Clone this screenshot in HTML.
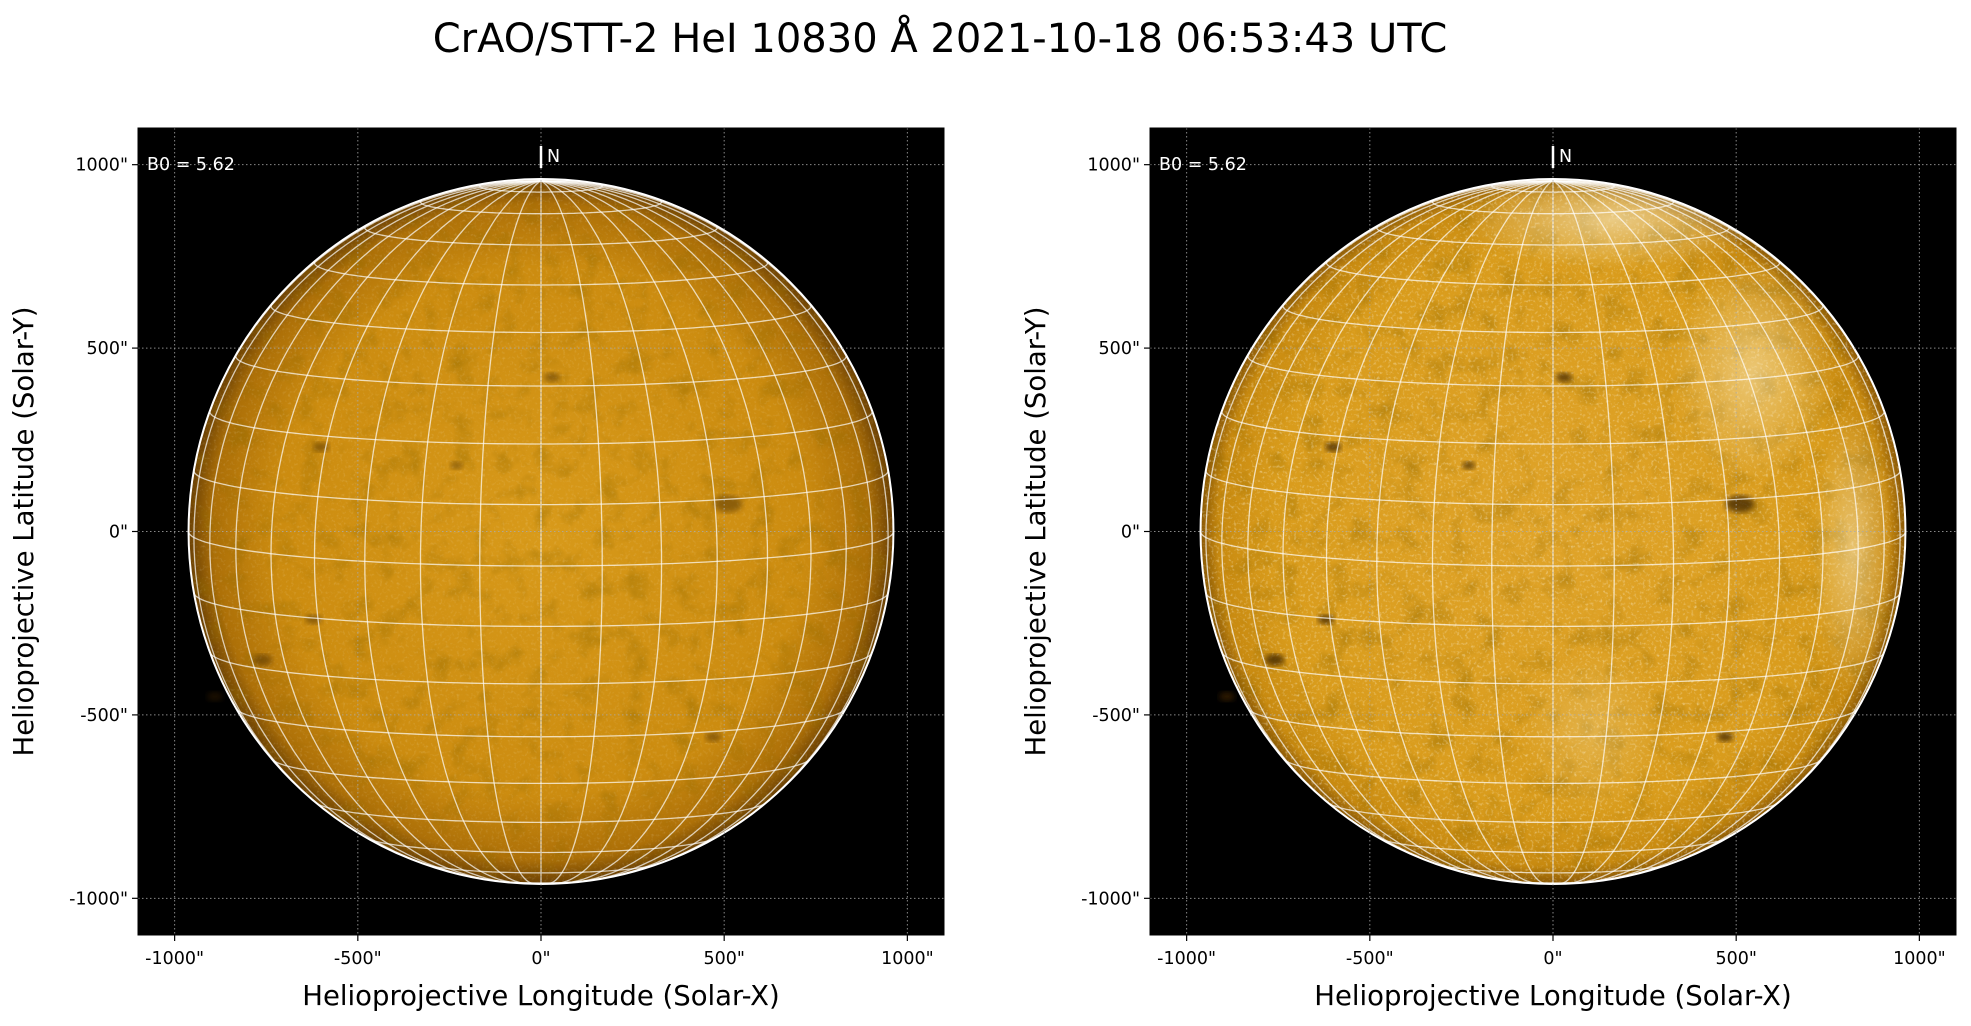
<!DOCTYPE html>
<html><head><meta charset="utf-8"><style>
html,body{margin:0;padding:0;background:#fff;}
svg{display:block;font-family:"DejaVu Sans","Liberation Sans",sans-serif;}
</style></head><body>
<svg id="fig" width="1971" height="1026" viewBox="0 0 1971 1026" xmlns="http://www.w3.org/2000/svg">
<defs>
<radialGradient id="gL" cx="50%" cy="50%" r="50%">
<stop offset="0" stop-color="#d89a1a"/><stop offset="0.75" stop-color="#cc8c10"/><stop offset="0.93" stop-color="#ad7008"/><stop offset="1" stop-color="#6a4004"/>
</radialGradient>
<radialGradient id="gR" cx="50%" cy="50%" r="50%">
<stop offset="0" stop-color="#e0a42a"/><stop offset="0.8" stop-color="#d99c1c"/><stop offset="0.95" stop-color="#c88a10"/><stop offset="1" stop-color="#8a5806"/>
</radialGradient>
<radialGradient id="wPatch" cx="50%" cy="50%" r="50%">
<stop offset="0" stop-color="#fff3d0" stop-opacity="0.6"/><stop offset="1" stop-color="#fff3d0" stop-opacity="0"/>
</radialGradient>
<filter id="noise" x="0" y="0" width="100%" height="100%">
<feTurbulence type="fractalNoise" baseFrequency="0.35" numOctaves="2" seed="3"/>
<feColorMatrix type="matrix" values="0 0 0 0 1  0 0 0 0 0.95  0 0 0 0 0.8  0 0 0 1.4 -0.75"/>
</filter>
<filter id="dnoise" x="0" y="0" width="100%" height="100%">
<feTurbulence type="fractalNoise" baseFrequency="0.04" numOctaves="3" seed="7"/>
<feColorMatrix type="matrix" values="0 0 0 0 0.3  0 0 0 0 0.15  0 0 0 0 0  0 0 0 2.2 -1.1"/>
</filter>
<filter id="blur"><feGaussianBlur stdDeviation="3"/></filter>
</defs>
<text x="940" y="52" font-size="40" text-anchor="middle">CrAO/STT-2 HeI 10830 Å 2021-10-18 06:53:43 UTC</text>
<g id="panels"></g>
</svg>
<script>
// Data
const xTicks = [-1000, -500, 0, 500, 1000];
const yTicks = [-1000, -500, 0, 500, 1000];
const tickLabels = ['-1000"', '-500"', '0"', '500"', '1000"'];
const latLines = [-80,-70,-60,-50,-40,-30,-20,-10,0,10,20,30,40,50,60,70,80];
const lonLines = [-90,-80,-70,-60,-50,-40,-30,-20,-10,0,10,20,30,40,50,60,70,80,90];
const spotX = [30, 510, -620, -760, -600, -890, 470, -230];
const spotY = [420, 75, -240, -350, 230, -450, -560, 180];
const spotR = [10, 18, 10, 12, 10, 10, 10, 8];
const B0 = 5.62;
const solarRadius = 962;
const axRange = 1100;

const NS = 'http://www.w3.org/2000/svg';
const root = document.getElementById('panels');
function mk(tag, attrs, parent){const e=document.createElementNS(NS,tag);for(const k in attrs)e.setAttribute(k,attrs[k]);(parent||root).appendChild(e);return e;}

const panels = [{x0:138,name:'left',fill:'url(#gL)',bright:false},{x0:1150,name:'right',fill:'url(#gR)',bright:true}];
const y0 = 128, W = 806, H = 807;
const b = B0*Math.PI/180;

panels.forEach((p, pi)=>{
  const sx = v => p.x0 + (v + axRange)/(2*axRange)*W;
  const sy = v => y0 + (axRange - v)/(2*axRange)*H;
  const sc = W/(2*axRange);
  const cx = sx(0), cy = sy(0), R = solarRadius*sc;
  const g = mk('g',{});
  
  
  const bg = mk('rect',{x:p.x0,y:y0,width:W,height:H,fill:'#000'},g);
  
  
  const clipId='clip'+pi;
  const cp = mk('clipPath',{id:clipId},g);
  mk('circle',{cx:cx,cy:cy,r:R},cp);
  const disk = mk('circle',{cx:cx,cy:cy,r:R,fill:p.fill},g);
  
  
  const dt = mk('rect',{x:cx-R,y:cy-R,width:2*R,height:2*R,filter:'url(#dnoise)','clip-path':'url(#'+clipId+')',opacity:0.5},g);
  
  
  const tex = mk('rect',{x:cx-R,y:cy-R,width:2*R,height:2*R,filter:'url(#noise)','clip-path':'url(#'+clipId+')',opacity:p.bright?0.85:0.3},g);
  
  
  if(p.bright){
    const pg = mk('g',{'clip-path':'url(#'+clipId+')'},g);
    mk('ellipse',{cx:cx+60,cy:cy-R+40,rx:150,ry:50,fill:'url(#wPatch)'},pg);
    mk('ellipse',{cx:cx+200,cy:cy-160,rx:80,ry:110,fill:'url(#wPatch)',opacity:0.8},pg);
    mk('ellipse',{cx:cx+300,cy:cy+20,rx:40,ry:140,fill:'url(#wPatch)',opacity:0.8},pg);
    mk('ellipse',{cx:cx+40,cy:cy+200,rx:70,ry:80,fill:'url(#wPatch)',opacity:0.4},pg);
  }
  spotX.forEach((v,i)=>{
    const s = mk('ellipse',{cx:sx(v),cy:sy(spotY[i]),rx:spotR[i]*sc*2.2,ry:spotR[i]*sc*1.3,fill:'#3a2000',opacity:p.bright?0.75:0.45,filter:'url(#blur)'},g);
    
    
  });
  const proj=(lat,lon)=>{const la=lat*Math.PI/180,lo=lon*Math.PI/180;
    return {x:Math.cos(la)*Math.sin(lo), y:Math.sin(la)*Math.cos(b)-Math.cos(la)*Math.cos(lo)*Math.sin(b), z:Math.sin(la)*Math.sin(b)+Math.cos(la)*Math.cos(lo)*Math.cos(b)};};
  const gg = mk('g',{stroke:'#fff','stroke-opacity':0.7,'stroke-width':1.3,fill:'none'},g);
  
  
  function line(pts){let d='',pen=false;pts.forEach(q=>{if(q.z>=0){d+=(pen?'L':'M')+(cx+q.x*R).toFixed(1)+' '+(cy-q.y*R).toFixed(1);pen=true;}else pen=false;});if(d)mk('path',{d:d},gg);}
  latLines.forEach(lat=>{const pts=[];for(let lo=-180;lo<=180;lo+=2)pts.push(proj(lat,lo));line(pts);});
  lonLines.concat([-100,100]).forEach(lon=>{const pts=[];for(let la=-90;la<=90;la+=2)pts.push(proj(la,lon));line(pts);});
  const limb = mk('circle',{cx:cx,cy:cy,r:R,fill:'none',stroke:'#fff','stroke-width':2},g);
  
  
  const ag = mk('g',{stroke:'#aaa','stroke-width':1,'stroke-dasharray':'1.5,2.5','stroke-opacity':0.8},g);
  
  
  xTicks.forEach(v=>mk('line',{x1:sx(v),x2:sx(v),y1:y0,y2:y0+H},ag));
  yTicks.forEach(v=>mk('line',{x1:p.x0,x2:p.x0+W,y1:sy(v),y2:sy(v)},ag));
  mk('rect',{x:p.x0,y:y0,width:W,height:H,fill:'none',stroke:'#000','stroke-width':1},g);
  xTicks.forEach((v,i)=>{
    mk('line',{x1:sx(v),x2:sx(v),y1:y0+H,y2:y0+H+6,stroke:'#000','stroke-width':1.2},g);
    const t=mk('text',{x:sx(v),y:y0+H+29,'font-size':17.5,'text-anchor':'middle'},g);t.textContent=tickLabels[i];
    
    
  });
  yTicks.forEach((v,i)=>{
    mk('line',{x1:p.x0-6,x2:p.x0,y1:sy(v),y2:sy(v),stroke:'#000','stroke-width':1.2},g);
    const t=mk('text',{x:p.x0-10,y:sy(v)+6,'font-size':17.5,'text-anchor':'end'},g);t.textContent=tickLabels[i];
    
    
  });
  const xl=mk('text',{x:p.x0+W/2,y:1005,'font-size':27.5,'text-anchor':'middle'},g);xl.textContent='Helioprojective Longitude (Solar-X)';
  
  
  const yx=p.x0-105;
  const yl=mk('text',{x:yx,y:cy,'font-size':27.5,'text-anchor':'middle',transform:'rotate(-90 '+yx+' '+cy+')'},g);yl.textContent='Helioprojective Latitude (Solar-Y)';
  
  
  const b0=mk('text',{x:p.x0+9,y:170,'font-size':17.5,fill:'#fff'},g);b0.textContent='B0 = 5.62';
  
  
  mk('line',{x1:cx,x2:cx,y1:146,y2:168,stroke:'#fff','stroke-width':2.5},g);
  const n=mk('text',{x:cx+6,y:162,'font-size':17.5,fill:'#fff'},g);n.textContent='N';
  
  
});
</script>
</body></html>
